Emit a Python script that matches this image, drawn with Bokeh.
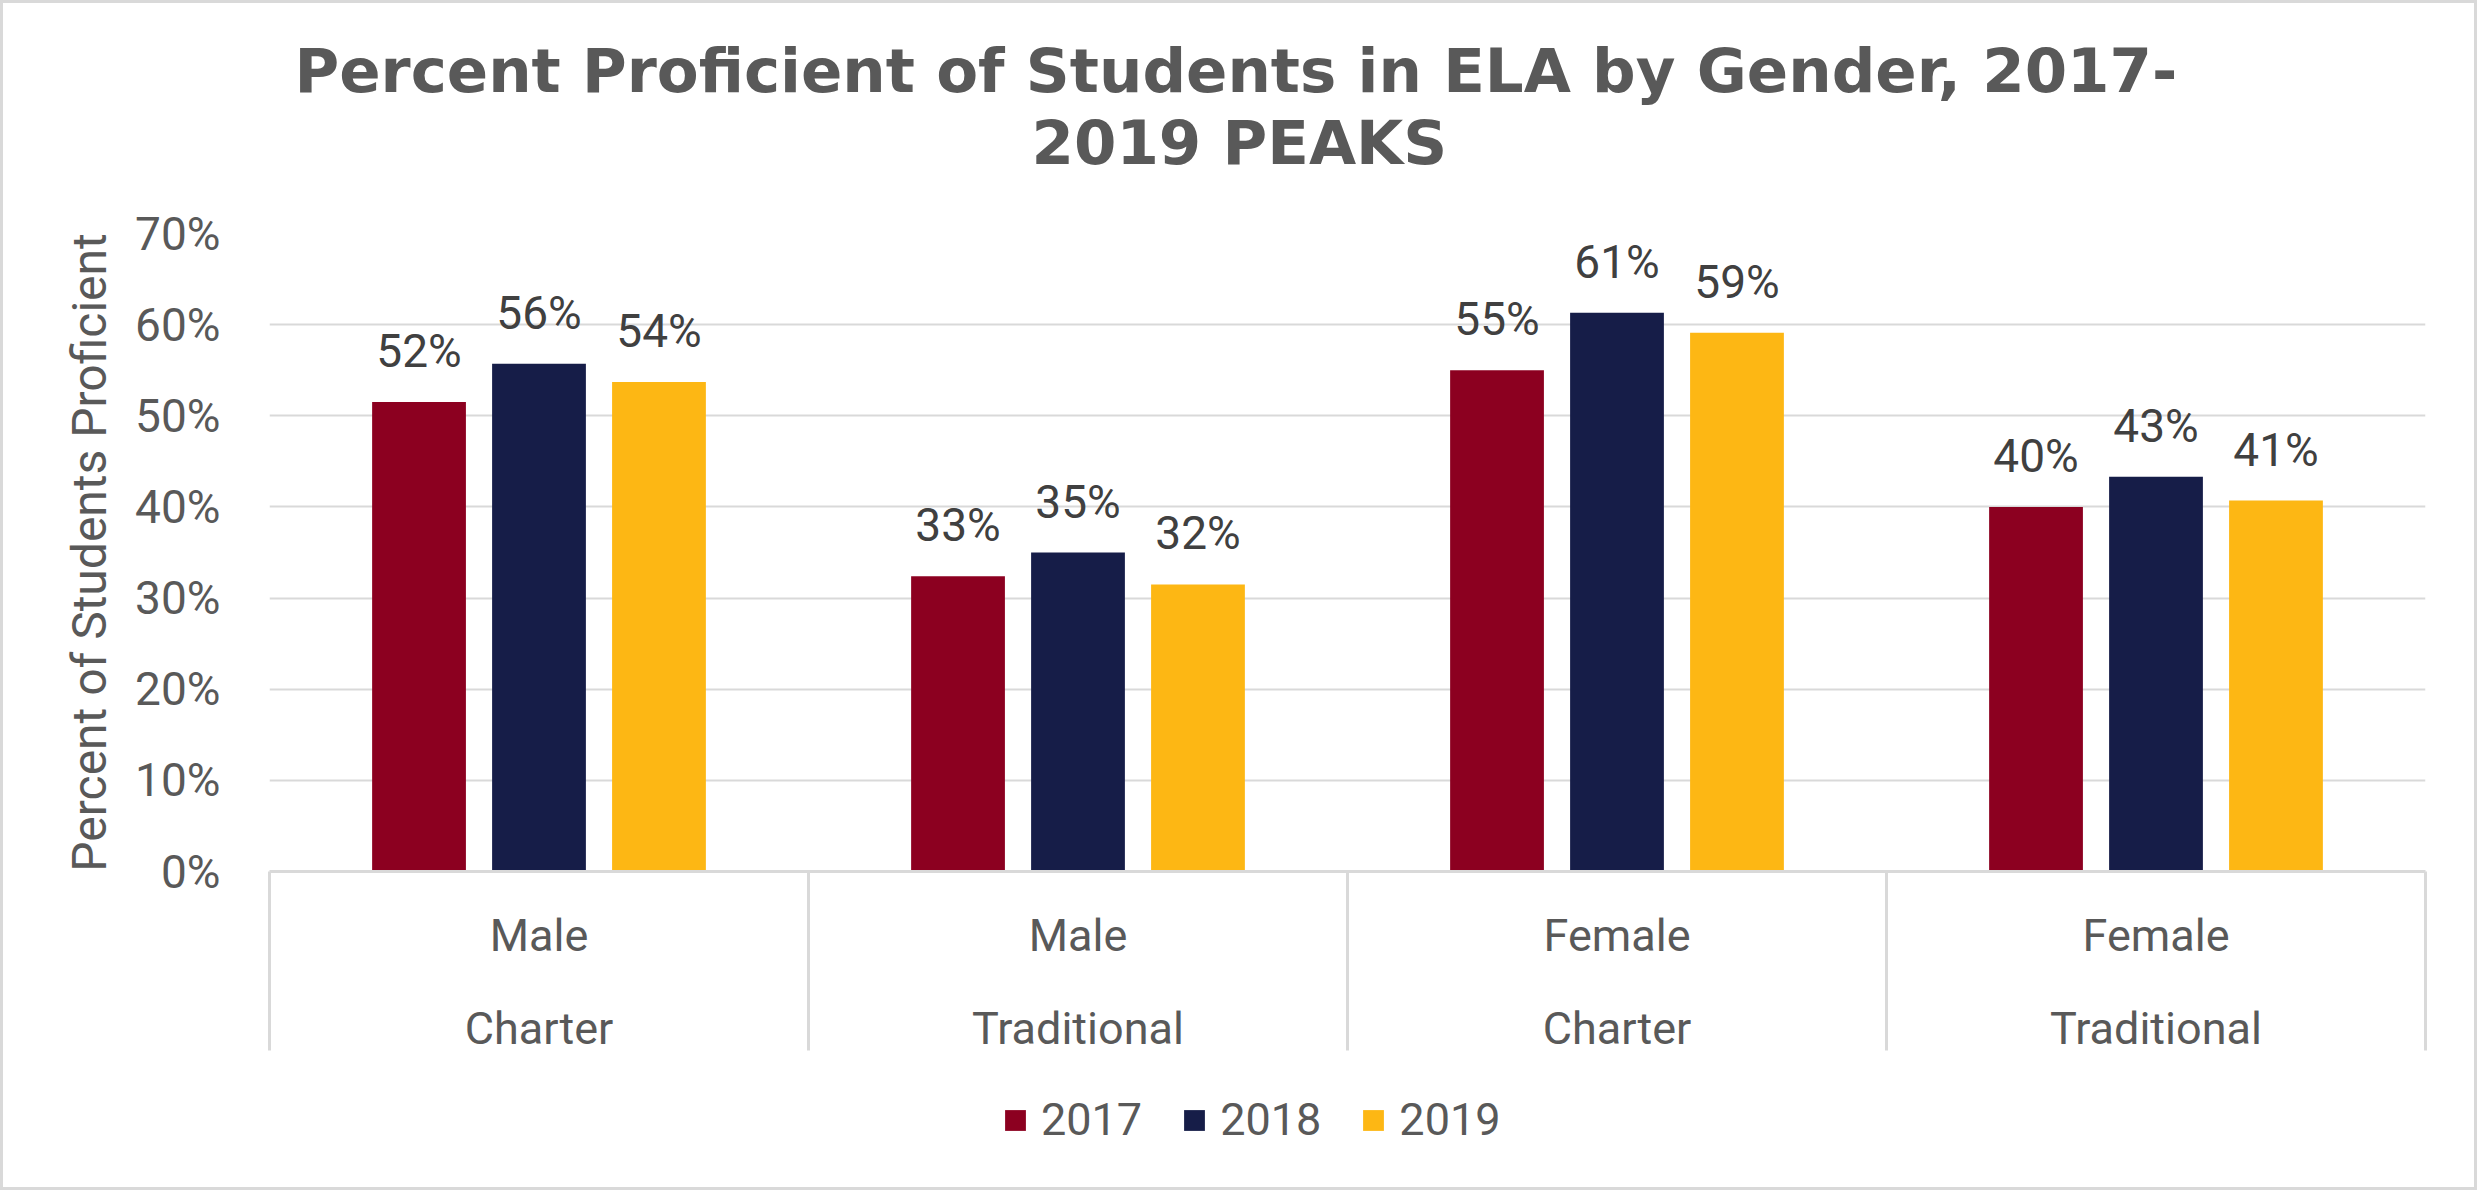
from bokeh.plotting import figure
from bokeh.layouts import column
from bokeh.models import (Range1d, FixedTicker, LinearAxis, NumeralTickFormatter,
                          Title, Legend, LegendItem, ColumnDataSource, Grid)
from bokeh.transform import dodge
from bokeh.core.properties import value
from bokeh.embed import file_html
from bokeh.resources import INLINE

# ---- data ----
genders = ["Male", "Male", "Female", "Female"]
school_types = ["Charter", "Traditional", "Charter", "Traditional"]
years = ["2017", "2018", "2019"]
v2017 = [0.515, 0.324, 0.550, 0.400]
v2018 = [0.557, 0.350, 0.613, 0.433]
v2019 = [0.537, 0.315, 0.591, 0.407]
lab2017 = ["52%", "33%", "55%", "40%"]
lab2018 = ["56%", "35%", "61%", "43%"]
lab2019 = ["54%", "32%", "59%", "41%"]
y_ticks = [0, 0.1, 0.2, 0.3, 0.4, 0.5, 0.6, 0.7]

colors = ["#8C0020", "#161D48", "#FDB714"]
TXT = "#595959"
GRID = "#D9D9D9"
FONT = "Roboto"

pos = list(range(len(genders)))
src = ColumnDataSource(dict(x=pos, v2017=v2017, v2018=v2018, v2019=v2019,
                            l2017=lab2017, l2018=lab2018, l2019=lab2019))

W = 2471
H_MAIN, H_LEG = 1060, 124
p = figure(width=W, height=H_MAIN, output_backend="svg", toolbar_location=None,
           x_range=Range1d(-0.5, 3.5), y_range=Range1d(0, 0.7),
           x_axis_type=None, y_axis_type=None,
           min_border_left=266, min_border_right=49, min_border_top=230,
           min_border_bottom=H_MAIN - 868)
p.outline_line_color = None
p.background_fill_color = "white"
p.border_fill_color = "white"

# y axis
yax = LinearAxis(ticker=FixedTicker(ticks=y_ticks), formatter=NumeralTickFormatter(format="0%"))
yax.axis_line_color = None
yax.major_tick_line_color = None
yax.minor_tick_line_color = None
yax.major_tick_out = 0
yax.major_tick_in = 0
yax.major_label_text_font = FONT
yax.major_label_text_font_size = "46px"
yax.major_label_text_color = TXT
yax.major_label_standoff = 49
yax.axis_label = "Percent of Students Proficient"
yax.axis_label_text_font = FONT
yax.axis_label_text_font_size = "48px"
yax.axis_label_text_font_style = "normal"
yax.axis_label_text_color = TXT
yax.axis_label_standoff = 14
p.add_layout(yax, "left")

p.add_layout(Grid(dimension=1, ticker=yax.ticker, grid_line_color=GRID, grid_line_width=2))

# x axis level 1 (gender) with group separators as long minor ticks
ax1 = LinearAxis(ticker=FixedTicker(ticks=pos, minor_ticks=[-0.5, 0.5, 1.5, 2.5, 3.5]),
                 major_label_overrides={i: g for i, g in zip(pos, genders)})
ax1.axis_line_color = GRID
ax1.axis_line_width = 3
ax1.major_tick_line_color = None
ax1.major_tick_out = 0
ax1.major_tick_in = 0
ax1.minor_tick_line_color = GRID
ax1.minor_tick_line_width = 3
ax1.minor_tick_in = 0
ax1.minor_tick_out = 179
ax1.major_label_text_font = FONT
ax1.major_label_text_font_size = "45px"
ax1.major_label_text_color = TXT
ax1.major_label_standoff = 37 - 179
p.add_layout(ax1, "below")

# x axis level 2 (school type)
ax2 = LinearAxis(ticker=FixedTicker(ticks=pos, minor_ticks=[]),
                 major_label_overrides={i: s for i, s in zip(pos, school_types)})
ax2.axis_line_color = None
ax2.major_tick_line_color = None
ax2.minor_tick_line_color = None
ax2.major_tick_out = 0
ax2.major_tick_in = 0
ax2.minor_tick_out = 0
ax2.minor_tick_in = 0
ax2.major_label_text_font = FONT
ax2.major_label_text_font_size = "45px"
ax2.major_label_text_color = TXT
ax2.major_label_standoff = 37
p.add_layout(ax2, "below")

# bars
bw = 0.174
step = 0.2226
for k, (yr, col) in enumerate(zip(years, colors)):
    off = (k - 1) * step
    p.vbar(x=dodge("x", off, range=p.x_range), top="v" + yr, width=bw, bottom=0,
           source=src, fill_color=col, line_color=None)
    p.text(x=dodge("x", off, range=p.x_range), y="v" + yr, text="l" + yr, source=src,
           text_font=value(FONT), text_font_size="46px", text_color="#404040",
           text_align="center", text_baseline="alphabetic", y_offset=-51)

# titles (inner added first)
t2 = Title(text="2019 PEAKS", align="left", text_font="DejaVu Sans", text_font_size="61px",
           text_font_style="bold", text_color=TXT, standoff=111, offset=762)
t1 = Title(text="Percent Proficient of Students in ELA by Gender, 2017-", align="left",
           text_font="DejaVu Sans", text_font_size="61px", text_font_style="bold",
           text_color=TXT, standoff=-113, offset=25)
p.add_layout(t2, "above")
p.add_layout(t1, "above")

# legend strip below the chart (its frame is aligned with the chart frame by the column)
q = figure(width=W, height=H_LEG, output_backend="svg", toolbar_location=None,
           x_range=Range1d(-0.5, 3.5), y_range=Range1d(2, 3),
           x_axis_type=None, y_axis_type=None,
           min_border_left=0, min_border_right=0, min_border_top=0, min_border_bottom=0)
q.outline_line_color = None
q.xgrid.visible = False
q.ygrid.visible = False
q.background_fill_color = "white"
q.border_fill_color = "white"
# legend swatches: the same series, outside this strip's visible y range
swatches = [q.vbar(x="x", top="v" + yr, width=bw, bottom=0, source=src,
                   fill_color=col, line_color=None) for yr, col in zip(years, colors)]
legend = Legend(items=[LegendItem(label=yr, renderers=[r]) for yr, r in zip(years, swatches)],
                orientation="horizontal", location=(733, 41))
legend.label_text_font = FONT
legend.label_text_font_size = "45px"
legend.label_text_color = TXT
legend.glyph_width = 26
legend.glyph_height = 26
legend.label_standoff = 13
legend.spacing = 39
legend.padding = 0
legend.margin = 0
legend.border_line_color = None
legend.background_fill_alpha = 0
q.add_layout(legend, "center")

page = column(p, q, spacing=0, styles={"border": "3px solid #D9D9D9", "background": "white"})
open("out.html", "w").write(file_html(page, INLINE))
